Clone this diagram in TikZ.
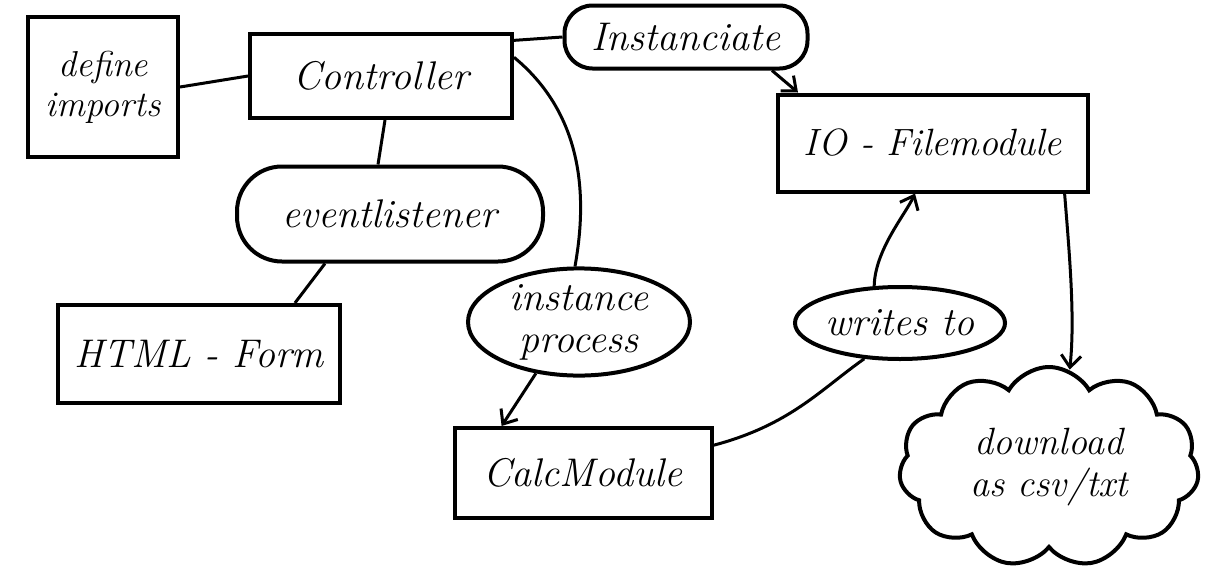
\documentclass[tikz,border=0pt]{standalone}
\usetikzlibrary{shapes.geometric,shapes.symbols,arrows.meta}
\begin{document}
\begin{tikzpicture}[x=1pt,y=-1pt,
  every node/.style={font=\fontsize{40}{42}\selectfont\itshape, align=center, inner sep=0pt},
  box/.style={draw, line width=4pt, rectangle},
  oval/.style={draw, line width=4pt, ellipse},
  pill/.style={draw, line width=4pt, rectangle, rounded corners=#1},
  puff/.style={draw, line width=4pt, cloud, cloud puffs=11, cloud puff arc=120, aspect=1.5},
  link/.style={line width=3pt},
  arr/.style={line width=3pt, -{Straight Barb[length=12pt,width=20pt,line width=3pt]}}
]
\useasboundingbox (0,0) rectangle (1224,587);

\node[box, minimum width=150pt, minimum height=140pt, font=\fontsize{36}{40}\selectfont\itshape] (def) at (103,87) {define\\imports};
\node[box, minimum width=262pt, minimum height=84pt] (ctrl) at (381,76) {Controller};
\node[pill=28pt, minimum width=243pt, minimum height=63pt] (inst) at (686,37) {Instanciate};
\node[box, minimum width=310pt, minimum height=97pt, font=\fontsize{38}{40}\selectfont\itshape] (io) at (933,143) {IO - Filemodule};
\node[pill=45pt, minimum width=306pt, minimum height=95pt] (ev) at (390,214) {eventlistener};
\node[box, minimum width=282pt, minimum height=98pt] (html) at (199,354) {HTML - Form};
\node[oval, minimum width=222pt, minimum height=105pt] (ip) at (579,322) {instance\\process};
\node[box, minimum width=257pt, minimum height=90pt] (calc) at (583,473) {CalcModule};
\node[oval, minimum width=202pt, minimum height=72pt] (wt) at (900,323) {writes to};
\node[puff, minimum width=300pt, minimum height=200pt, font=\fontsize{38}{42}\selectfont\itshape] (dl) at (1049,467) {download\\as csv/txt};

\draw[link] (def.east) -- (ctrl.west);
\draw[link] (ctrl.15) -- (inst.west);
\draw[arr] ([xshift=86pt]inst.south) -- ([xshift=22pt]io.north west);
\draw[link] ([xshift=4pt]ctrl.south) -- ([xshift=-12pt]ev.north);
\draw[link] ([xshift=-65pt]ev.south) -- (html.28);
\draw[link] (ctrl.8) .. controls (590,120) and (585,210) .. ([xshift=-4pt]ip.north);
\draw[arr] (ip.-130) -- (calc.150);
\draw[link] (calc.12) .. controls (790,425) and (820,390) .. (wt.-135);
\draw[arr] (wt.125) .. controls (875,250) and (905,215) .. ([xshift=-18pt]io.south);
\draw[arr] (io.-21) .. controls (1070,260) and (1075,320) .. (dl.78);
\end{tikzpicture}
\end{document}
